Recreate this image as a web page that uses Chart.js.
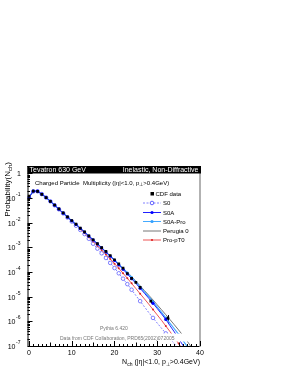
<!DOCTYPE html>
<html>
<head>
<meta charset="utf-8">
<script src="https://cdn.jsdelivr.net/npm/chart.js@4.4.1/dist/chart.umd.min.js"></script>
<style>
  html, body { margin: 0; padding: 0; background: #fff; }
  canvas { display: block; }
</style>
</head>
<body>
<canvas id="multChart" width="289" height="374"></canvas>
<script>
// Charged multiplicity, Tevatron 630 GeV
const nch = [0, 1, 2, 3, 4, 5, 6, 7, 8, 9, 10, 11, 12, 13, 14, 15, 16, 17, 18, 19,
  20, 21, 22, 23, 24, 25, 26, 27, 28, 29, 30, 31, 32, 33, 34, 35, 36, 37, 38];

const cdfN = [0, 1, 2, 3, 4, 5, 6, 7, 8, 9, 10, 11, 12, 13, 14, 15, 16, 17, 18, 19,
  20, 21, 22, 23, 24, 25, 26, 28.5, 32.5];
const cdfProb = [0.120, 0.191, 0.186, 0.141, 0.105, 0.0741, 0.0525, 0.0363, 0.0251, 0.0174,
  0.0123, 0.00871, 0.00603, 0.00427, 0.00295, 0.00204, 0.00141, 9.77e-4, 6.92e-4, 4.68e-4,
  3.16e-4, 2.14e-4, 1.45e-4, 8.71e-5, 5.50e-5, 3.80e-5, 2.40e-5, 6.61e-6, 1.35e-6];
const cdfErr = [0.003, 0.004, 0.004, 0.003, 0.002, 0.0015, 0.001, 7e-4, 5e-4, 4e-4,
  3e-4, 2e-4, 1.5e-4, 1e-4, 8e-5, 6e-5, 4e-5, 3e-5, 2.5e-5, 2e-5,
  1.5e-5, 1.1e-5, 8e-6, 6e-6, 4e-6, 3.5e-6, 2.5e-6, 1.2e-6, 4.5e-7];

const s0 = [0.104, 0.186, 0.188, 0.145, 0.105, 0.0738, 0.0508, 0.0350, 0.0240, 0.0163,
  0.0112, 0.00759, 0.00513, 0.00347, 0.00224, 0.00141, 8.91e-4, 5.75e-4, 3.72e-4, 2.34e-4,
  1.45e-4, 8.91e-5, 5.37e-5, 3.24e-5, 1.91e-5, 1.12e-5, 6.61e-6, 3.89e-6, 2.29e-6, 1.38e-6,
  8.51e-7, 5.25e-7, 3.24e-7, 2.00e-7, 1.23e-7, 7.59e-8];
const s0a = [0.107, 0.191, 0.191, 0.145, 0.105, 0.0741, 0.0513, 0.0355, 0.0245, 0.0170,
  0.0120, 0.00851, 0.00589, 0.00417, 0.00288, 0.00200, 0.00138, 9.55e-4, 6.46e-4, 4.37e-4,
  2.95e-4, 1.95e-4, 1.29e-4, 8.32e-5, 5.37e-5, 3.47e-5, 2.19e-5, 1.38e-5, 8.71e-6, 5.37e-6,
  3.31e-6, 2.00e-6, 1.20e-6, 6.61e-7, 3.72e-7, 2.00e-7, 1.07e-7, 5.62e-8];
const s0aPro = [0.110, 0.193, 0.190, 0.144, 0.105, 0.0741, 0.0513, 0.0355, 0.0245, 0.0170,
  0.0120, 0.00851, 0.00589, 0.00417, 0.00288, 0.00200, 0.00138, 9.55e-4, 6.46e-4, 4.37e-4,
  3.09e-4, 2.09e-4, 1.38e-4, 9.33e-5, 6.17e-5, 3.98e-5, 2.51e-5, 1.58e-5, 1.02e-5, 6.31e-6,
  3.80e-6, 2.29e-6, 1.38e-6, 8.32e-7, 5.01e-7, 2.95e-7, 1.70e-7, 9.55e-8, 5.25e-8];
const perugia0 = [0.112, 0.190, 0.189, 0.144, 0.104, 0.0741, 0.0513, 0.0355, 0.0245, 0.0170,
  0.0121, 0.00855, 0.00595, 0.00420, 0.00292, 0.00202, 0.00140, 9.66e-4, 6.61e-4, 4.47e-4,
  3.16e-4, 2.14e-4, 1.45e-4, 9.77e-5, 6.61e-5, 4.27e-5, 2.75e-5, 1.78e-5, 1.15e-5, 7.41e-6,
  4.68e-6, 2.95e-6, 1.86e-6, 1.17e-6, 7.24e-7, 4.47e-7, 2.69e-7, 1.58e-7, 8.91e-8];
const proPT0 = [0.108, 0.194, 0.192, 0.145, 0.105, 0.0735, 0.0505, 0.0348, 0.0240, 0.0166,
  0.0117, 0.00813, 0.00550, 0.00380, 0.00257, 0.00174, 0.00117, 7.76e-4, 5.13e-4, 3.39e-4,
  2.19e-4, 1.41e-4, 8.91e-5, 5.62e-5, 3.47e-5, 2.14e-5, 1.32e-5, 8.13e-6, 5.01e-6, 3.02e-6,
  1.82e-6, 1.10e-6, 6.46e-7, 3.80e-7, 2.19e-7, 1.26e-7, 7.08e-8];

const xTicks = [0, 10, 20, 30, 40];
const yDecades = [0, -1, -2, -3, -4, -5, -6, -7];

const FONT = '"Liberation Sans", Arial, Helvetica, sans-serif';

function toPoints(xs, ys) {
  return ys.map((y, i) => ({ x: xs[i], y: y }));
}

// draws text made of pieces [text, size, dy]
function drawParts(ctx, parts, x, y, align) {
  let w = 0;
  parts.forEach((p) => {
    ctx.font = p[1] + "px " + FONT;
    w += ctx.measureText(p[0]).width;
  });
  let cx = x;
  if (align === "right") cx = x - w;
  if (align === "center") cx = x - w / 2;
  parts.forEach((p) => {
    ctx.font = p[1] + "px " + FONT;
    ctx.fillText(p[0], cx, y + (p[2] || 0));
    cx += ctx.measureText(p[0]).width;
  });
}

function markerEvery(ctx, r) {
  const i = ctx.dataIndex;
  return i <= 24 || i % 3 === 2 ? r : 0;
}

const rootStyle = {
  id: "rootStyle",
  beforeDraw(chart) {
    const ctx = chart.ctx;
    ctx.save();
    ctx.fillStyle = "#fff";
    ctx.fillRect(0, 0, chart.width, chart.height);
    ctx.restore();
  },
  beforeDatasetsDraw(chart) {
    // error bars for the data
    const ctx = chart.ctx;
    const xs = chart.scales.x, ys = chart.scales.y;
    ctx.save();
    ctx.strokeStyle = "#000";
    ctx.lineWidth = 1;
    cdfN.forEach((n, i) => {
      const px = Math.round(xs.getPixelForValue(n)) + 0.5;
      ctx.beginPath();
      ctx.moveTo(px, ys.getPixelForValue(cdfProb[i] + cdfErr[i]));
      ctx.lineTo(px, ys.getPixelForValue(Math.max(cdfProb[i] - cdfErr[i], 1e-9)));
      ctx.stroke();
    });
    ctx.restore();
  },
  afterDatasetsDraw(chart) {
    const ctx = chart.ctx;
    ctx.save();
    // white text panes
    ctx.fillStyle = "#fff";
    ctx.fillRect(58, 333.5, 140, 8);
    ctx.fillStyle = "#777";
    ctx.textBaseline = "alphabetic";
    drawParts(ctx, [["Pythia 6.420", 5]], 100, 330, "left");
    drawParts(ctx, [["Data from CDF Collaboration, PRD65(2002)072005", 5]], 60, 340, "left");
    ctx.restore();
  },
  afterDraw(chart) {
    const ctx = chart.ctx;
    const a = chart.chartArea;
    const xs = chart.scales.x, ys = chart.scales.y;
    ctx.save();

    // axes
    ctx.strokeStyle = "#000";
    ctx.lineWidth = 1;
    ctx.beginPath();
    ctx.moveTo(a.left + 0.5, a.top);
    ctx.lineTo(a.left + 0.5, a.bottom + 0.5);
    ctx.lineTo(a.right, a.bottom + 0.5);
    ctx.stroke();
    ctx.strokeStyle = "#999";
    ctx.lineWidth = 1.5;
    ctx.beginPath();
    ctx.moveTo(a.right, a.top);
    ctx.lineTo(a.right, a.bottom + 1);
    ctx.stroke();

    // y ticks
    ctx.strokeStyle = "#000";
    ctx.lineWidth = 1;
    ctx.beginPath();
    yDecades.forEach((k) => {
      for (let m = 1; m <= 9; m++) {
        const v = m * Math.pow(10, k);
        if (v > ys.max || v < ys.min) continue;
        const py = Math.round(ys.getPixelForValue(v)) + 0.5;
        ctx.moveTo(a.left, py);
        ctx.lineTo(a.left + (m === 1 ? 5 : 2.5), py);
      }
    });
    // x ticks
    for (let n = 0; n <= 40; n++) {
      const px = Math.round(xs.getPixelForValue(n)) + 0.5;
      const len = n % 10 === 0 ? 5 : n % 5 === 0 ? 3.5 : 2;
      ctx.moveTo(px, a.bottom);
      ctx.lineTo(px, a.bottom - len);
    }
    ctx.stroke();

    // tick labels
    ctx.fillStyle = "#000";
    ctx.textBaseline = "alphabetic";
    yDecades.forEach((k) => {
      const py = ys.getPixelForValue(Math.pow(10, k));
      if (k === 0) {
        drawParts(ctx, [["1", 7]], 21, py + 2.5, "right");
      } else {
        drawParts(ctx, [["10", 7]], 15.5, py + 3, "right");
        drawParts(ctx, [[String(k), 5]], 16, py - 2, "left");
      }
    });
    xTicks.forEach((t) => {
      drawParts(ctx, [[String(t), 7]], xs.getPixelForValue(t), 355, "center");
    });

    // axis titles
    drawParts(ctx, [["N", 7], ["ch", 5, 1.5], [" (|\u03b7|<1.0, p", 7], ["\u22a5", 5, 1.5], [">0.4GeV)", 7]],
      200, 364, "right");
    ctx.save();
    ctx.translate(9.5, 162);
    ctx.rotate(-Math.PI / 2);
    drawParts(ctx, [["Probability(N", 8], ["ch", 6, 2], [")", 8]], 0, 0, "right");
    ctx.restore();

    // title bar
    ctx.fillStyle = "#000";
    ctx.fillRect(a.left, 166, a.right - a.left + 1, 7.5);
    ctx.fillStyle = "#fff";
    drawParts(ctx, [["Tevatron 630 GeV", 7]], a.left + 2, 172.3, "left");
    drawParts(ctx, [["Inelastic, Non-Diffractive", 7]], a.right - 1.5, 172.3, "right");

    // subtitle
    ctx.fillStyle = "#000";
    drawParts(ctx, [["Charged Particle  Multiplicity (|\u03b7|<1.0, p", 6], ["\u22a5", 4.5, 1.2], [">0.4GeV)", 6]],
      35, 184.5, "left");

    // legend
    const legend = [
      { label: "CDF data", y: 193.5 },
      { label: "S0", y: 202.5, color: "#8080ff", dash: [2, 1.5], marker: "open", mcolor: "#6060ff" },
      { label: "S0A", y: 212, color: "#2020ff", marker: "fill", mcolor: "#0000ff" },
      { label: "S0A-Pro", y: 221, color: "#44aaff", marker: "fill", mcolor: "#33a0ff" },
      { label: "Perugia 0", y: 230.5, color: "#777" },
      { label: "Pro-pT0", y: 239.5, color: "#ee5555", marker: "dot", mcolor: "#dd2222" }
    ];
    legend.forEach((e) => {
      if (e.color) {
        ctx.strokeStyle = e.color;
        ctx.lineWidth = 1;
        ctx.setLineDash(e.dash || []);
        ctx.beginPath();
        ctx.moveTo(143, e.y + 0.5);
        ctx.lineTo(161, e.y + 0.5);
        ctx.stroke();
        ctx.setLineDash([]);
        if (e.marker === "open") {
          ctx.strokeStyle = e.mcolor;
          ctx.fillStyle = "#fff";
          ctx.beginPath();
          ctx.arc(152, e.y + 0.5, 1.8, 0, Math.PI * 2);
          ctx.fill();
          ctx.stroke();
        } else if (e.marker) {
          ctx.fillStyle = e.mcolor;
          ctx.beginPath();
          ctx.arc(152, e.y + 0.5, e.marker === "dot" ? 1.1 : 1.6, 0, Math.PI * 2);
          ctx.fill();
        }
        ctx.fillStyle = "#000";
        drawParts(ctx, [[e.label, 6]], 163, e.y + 2.5, "left");
      } else {
        ctx.fillStyle = "#000";
        ctx.fillRect(150.5, e.y - 1.5, 3.5, 3.5);
        drawParts(ctx, [[e.label, 6]], 155.5, e.y + 2.5, "left");
      }
    });

    ctx.restore();
  }
};

const ctx = document.getElementById("multChart").getContext("2d");

new Chart(ctx, {
  type: "line",
  data: {
    datasets: [
      {
        label: "CDF data",
        data: toPoints(cdfN, cdfProb),
        showLine: false,
        pointStyle: "rect",
        pointRadius: 1.9,
        pointBackgroundColor: "#000",
        pointBorderColor: "#000",
        pointBorderWidth: 0
      },
      {
        label: "S0A",
        data: toPoints(nch, s0a),
        borderColor: "#2020ff",
        borderWidth: 1,
        pointRadius: (c) => markerEvery(c, 1.6),
        pointBackgroundColor: "#0000ff",
        pointBorderWidth: 0
      },
      {
        label: "S0A-Pro",
        data: toPoints(nch, s0aPro),
        borderColor: "#44aaff",
        borderWidth: 1.2,
        pointRadius: (c) => markerEvery(c, 1.2),
        pointBackgroundColor: "#33a0ff",
        pointBorderWidth: 0
      },
      {
        label: "Pro-pT0",
        data: toPoints(nch, proPT0),
        borderColor: "#ee5555",
        borderWidth: 1,
        pointRadius: (c) => markerEvery(c, 1.0),
        pointBackgroundColor: "#dd2222",
        pointBorderWidth: 0
      },
      {
        label: "S0",
        data: toPoints(nch, s0),
        borderColor: "#8080ff",
        borderWidth: 1,
        borderDash: [2, 1.5],
        pointRadius: (c) => markerEvery(c, 1.8),
        pointBackgroundColor: "#fff",
        pointBorderColor: "#6060ff",
        pointBorderWidth: 0.8
      },
      {
        label: "Perugia 0",
        data: toPoints(nch, perugia0),
        borderColor: "#777",
        borderWidth: 1,
        pointRadius: 0
      }
    ]
  },
  options: {
    responsive: false,
    animation: false,
    devicePixelRatio: 1,
    events: [],
    layout: {
      padding: { left: 27.5, right: 89, top: 166, bottom: 28 }
    },
    elements: { line: { tension: 0 } },
    plugins: {
      legend: { display: false },
      tooltip: { enabled: false }
    },
    scales: {
      x: {
        type: "linear",
        min: -0.35,
        max: 40,
        grid: { display: false },
        border: { display: false },
        ticks: { display: false },
        afterFit: (s) => { s.height = 0; }
      },
      y: {
        type: "logarithmic",
        min: 1e-7,
        max: 2,
        grid: { display: false },
        border: { display: false },
        ticks: { display: false },
        afterFit: (s) => { s.width = 0; }
      }
    }
  },
  plugins: [rootStyle]
});
</script>
</body>
</html>
